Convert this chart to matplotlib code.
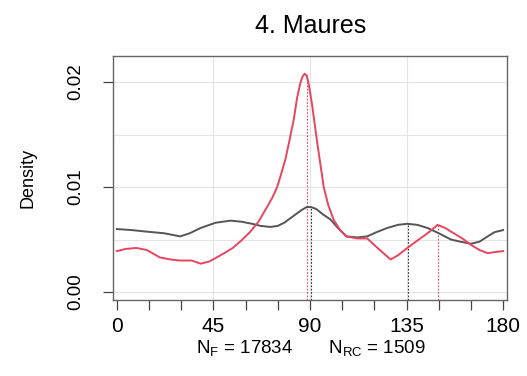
import matplotlib
matplotlib.use("Agg")
import matplotlib.pyplot as plt
import numpy as np

plt.rcParams['font.family'] = ['Liberation Sans', 'DejaVu Sans']

# black (all faults) density curve
ang_f = [0, 7, 14, 22, 29.5, 34, 39, 46, 53, 58, 63, 67, 71.5, 75, 78, 82, 86,
         88.5, 90.5, 93, 96, 99.6, 103, 107, 112, 116.7, 121, 126, 131, 135.4,
         140, 144.8, 150, 155.7, 160, 165, 169, 172.8, 176, 180]
dens_f = [0.0060, 0.0059, 0.00575, 0.0056, 0.0053, 0.0056, 0.0061, 0.0066, 0.0068,
          0.0067, 0.0065, 0.0063, 0.0062, 0.0063, 0.0066, 0.0072, 0.0078,
          0.0081, 0.0081, 0.0079, 0.0074, 0.0069, 0.0061, 0.0053, 0.0052,
          0.0053, 0.0057, 0.0061, 0.0064, 0.0065, 0.0064, 0.0061, 0.0056,
          0.0050, 0.0048, 0.0046, 0.0048, 0.0053, 0.0057, 0.0059]

# red (RC) density curve
ang_rc = [0, 4, 9, 14, 20, 25, 29.5, 35, 39, 43, 46.6, 50, 54, 58, 62, 66, 70,
          72.5, 74.7, 76.5, 78.5, 80.5, 82.4, 84, 85.5, 86.5, 87.5, 88.5, 89.5,
          91, 93.4, 96.4, 98.5, 101, 104, 107, 112, 116.7, 122, 127.6, 131,
          135.4, 140, 144.8, 149.5, 153, 157, 161, 165, 169, 172.8, 176, 180]
dens_rc = [0.0039, 0.0041, 0.0042, 0.0040, 0.0033, 0.0031, 0.0030, 0.0030, 0.0027,
           0.0029, 0.0033, 0.0037, 0.0042, 0.0049, 0.0057, 0.0067, 0.0081,
           0.0090, 0.0100, 0.0112, 0.0126, 0.0145, 0.0164, 0.0185, 0.0199,
           0.0205, 0.0208, 0.0206, 0.0197, 0.0178, 0.0142, 0.0100, 0.0083,
           0.0069, 0.0059, 0.0053, 0.0051, 0.0051, 0.0041, 0.0031, 0.0035,
           0.0042, 0.0049, 0.0056, 0.0064, 0.0061, 0.0056, 0.0051, 0.0045,
           0.0040, 0.0037, 0.0038, 0.0039]

# modes (vertical dotted lines)
mode_f = [90.7, 135.5]
mode_f_h = [0.0081, 0.0065]
mode_rc = [88.4, 149.6]
mode_rc_h = [0.0207, 0.0064]

red = '#e8455f'
dark = '#555555'
ymin = -0.00076

fig = plt.figure(figsize=(5.27, 3.76), dpi=100)
ax = fig.add_axes([0.2144, 0.2021, 0.7476, 0.6489])

for g in [0, 0.005, 0.01, 0.015, 0.02]:
    ax.axhline(g, color='#e4e4e4', lw=0.8, zorder=0)
for g in [45, 90, 135]:
    ax.axvline(g, color='#e4e4e4', lw=0.8, zorder=0)

for x, h in zip(mode_rc, mode_rc_h):
    ax.plot([x, x], [ymin, h], color=red, lw=0.8, ls=(0, (1.5, 1.5)), zorder=1)
for x, h in zip(mode_f, mode_f_h):
    ax.plot([x, x], [ymin, h], color='#333333', lw=0.8, ls=(0, (1.5, 1.5)), zorder=1)

ax.plot(ang_f, dens_f, color=dark, lw=1.4, zorder=2)
ax.plot(ang_rc, dens_rc, color=red, lw=1.4, zorder=3)

ax.set_xlim(-1.8, 181.8)
ax.set_ylim(ymin, 0.02248)
ax.set_xticks(np.arange(0, 181, 15))
ax.set_xticklabels(['0' if v == 0 else (str(v) if v % 45 == 0 else '') for v in range(0, 181, 15)])
ax.set_yticks([0, 0.01, 0.02])
ax.set_yticklabels(['0.00', '0.01', '0.02'], rotation=90, va='center')
ax.tick_params(axis='both', length=7, width=0.9, color='#444444', labelsize=13.5)
ax.tick_params(axis='x', pad=5, labelsize=15)
ax.tick_params(axis='y', pad=14)
for s in ax.spines.values():
    s.set_color('#666666')
    s.set_linewidth(1.0)

ax.set_ylabel('Density', fontsize=13, labelpad=22)
fig.text(0.59, 0.932, '4. Maures', ha='center', va='center', fontsize=18)
fig.text(0.59, 0.072, r'N$_\mathregular{F}$ = 17834       N$_\mathregular{RC}$ = 1509',
         ha='center', va='center', fontsize=13.5)

fig.savefig('out.png', dpi=100)
